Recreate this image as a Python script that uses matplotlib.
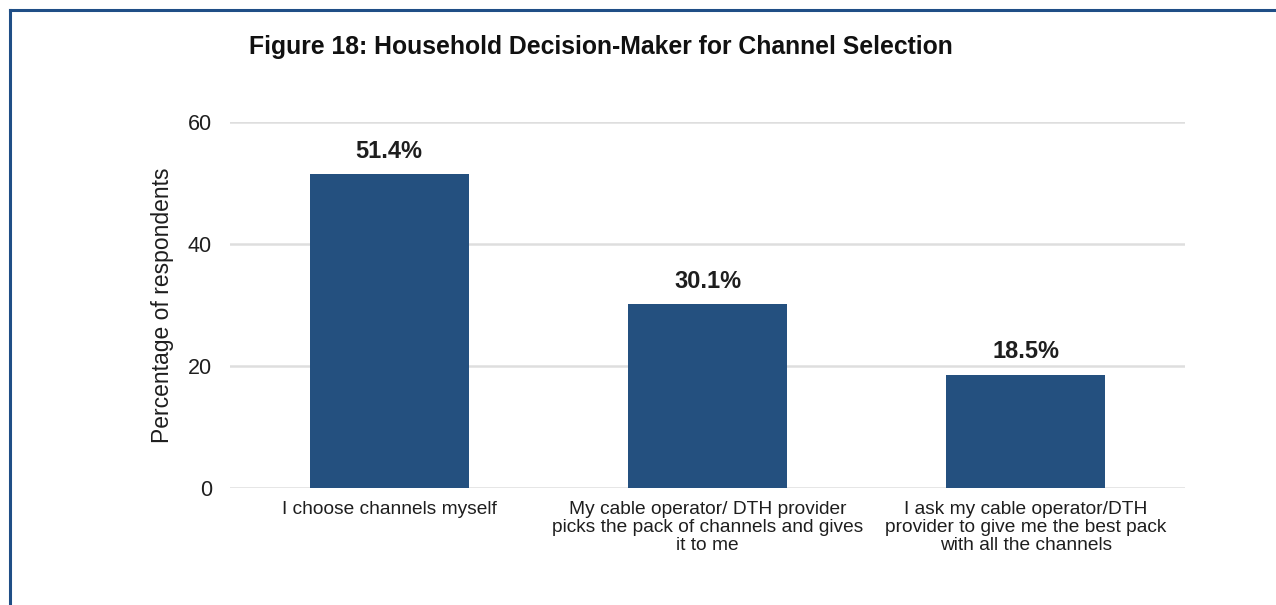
import matplotlib
matplotlib.use("Agg")
import matplotlib.pyplot as plt

categories = [
    "I choose channels myself",
    "My cable operator/ DTH provider\npicks the pack of channels and gives\nit to me",
    "I ask my cable operator/DTH\nprovider to give me the best pack\nwith all the channels",
]
values = [51.4, 30.1, 18.5]
yticks = [0, 20, 40, 60]

plt.rcParams["font.family"] = ["Liberation Sans", "DejaVu Sans"]
ink = "#1e1e1e"

fig = plt.figure(figsize=(12.76, 6.05), dpi=100)

# frame line along top and left edge
blue = "#1f4e86"
fig.add_artist(plt.Line2D([0.008, 1.0], [0.983, 0.983], color=blue, lw=2.2))
fig.add_artist(plt.Line2D([0.008, 0.008], [0.0, 0.983], color=blue, lw=2.2))

fig.text(0.471, 0.922, "Figure 18: Household Decision-Maker for Channel Selection",
         ha="center", va="center", fontsize=17.8, fontweight="bold", color="#111111")

ax = fig.add_axes([230 / 1276, 1 - 488 / 605, 955 / 1276, 366 / 605])
x = range(len(values))
bars = ax.bar(x, values, width=0.5, color="#24507f", zorder=3)
for b, v in zip(bars, values):
    ax.text(b.get_x() + b.get_width() / 2, v + 3.8, f"{v}%",
            ha="center", va="center", fontsize=17, fontweight="bold", color=ink)

ax.set_xlim(-0.5, 2.5)
ax.set_ylim(0, 60)
ax.set_yticks(yticks)
ax.yaxis.grid(True, color="#dedede", lw=1.8, zorder=0)
ax.tick_params(axis="y", length=0, labelsize=15.5, pad=13, colors=ink)
ax.tick_params(axis="x", length=0, pad=9)
ax.set_xticks(list(x))
ax.set_xticklabels(categories, fontsize=13.8, linespacing=1.1, color=ink, va="top")
for s in ax.spines.values():
    s.set_visible(False)
ax.set_ylabel("Percentage of respondents", fontsize=16.5, labelpad=10, color=ink)

fig.savefig("out.png", dpi=100)
